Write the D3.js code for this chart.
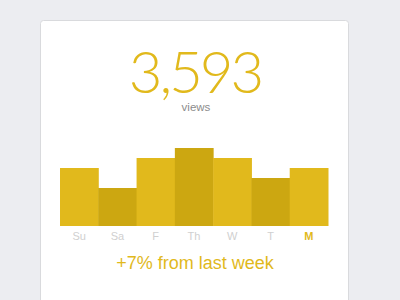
<!DOCTYPE html>
<html lang="en">
  <head>
    <meta charset="utf-8" />
    <title>Weekly views</title>
    <script type="text/javascript" src="https://cdn.jsdelivr.net/npm/d3@7"></script>
    <style>
      body { margin: 0; background: #ecedf1; }
    </style>
  </head>
  <body>
    <script>
      var days = ["Su", "Sa", "F", "Th", "W", "T", "M"]
      var views = [58, 38, 68, 78, 68, 48, 58]
      var shade = ["light", "dark", "light", "dark", "light", "dark", "light"]
      var total = "3,593"
      var change = "+7% from last week"
      var today = "M"

      var width = 400, height = 300
      var svg = d3.select("body").append("svg")
                  .attr("width", width)
                  .attr("height", height)

      // card
      svg.append("rect")
         .attr("x", 40.5).attr("y", 20.5)
         .attr("width", 308).attr("height", 300)
         .attr("rx", 3)
         .attr("fill", "#fff")
         .attr("stroke", "#d9dadd")

      var xScale = d3.scaleBand().domain(days).range([60, 328]).padding(0)
      var yScale = d3.scaleLinear().domain([0, d3.max(views)]).range([226, 148])

      svg.selectAll("rect.bar")
         .data(days)
         .enter()
         .append("rect")
           .attr("class", "bar")
           .attr("x", function(d) { return xScale(d) })
           .attr("y", function(d, i) { return yScale(views[i]) })
           .attr("width", xScale.bandwidth() + 0.5)
           .attr("height", function(d, i) { return yScale(0) - yScale(views[i]) })
           .attr("fill", function(d, i) { return shade[i] == "dark" ? "#cca711" : "#e1b91c" })

      var xAxis = svg.append("g")
         .attr("transform", "translate(0,226)")
         .call(d3.axisBottom(xScale).tickSize(0).tickPadding(6))
      xAxis.select(".domain").remove()
      xAxis.selectAll("text")
         .style("font-family", "Liberation Sans, Arial, sans-serif")
         .style("font-size", "11px")
         .attr("fill", function(d) { return d == today ? "#e1b91c" : "#d0d0d0" })
         .style("font-weight", function(d) { return d == today ? "bold" : "normal" })

      svg.append("text")
         .attr("x", 195).attr("y", 93)
         .attr("text-anchor", "middle")
         .style("font-family", "Lato, sans-serif")
         .style("font-weight", "300")
         .style("font-size", "58px")
         .style("letter-spacing", "-3px")
         .attr("fill", "#e1b91c")
         .text(total)

      svg.append("text")
         .attr("x", 196).attr("y", 111)
         .attr("text-anchor", "middle")
         .style("font-family", "Liberation Sans, Arial, sans-serif")
         .style("font-size", "11.5px")
         .attr("fill", "#8c8c8c")
         .text("views")

      svg.append("text")
         .attr("x", 195).attr("y", 269)
         .attr("text-anchor", "middle")
         .style("font-family", "Liberation Sans, Arial, sans-serif")
         .style("font-size", "18px")
         .attr("fill", "#e1b91c")
         .text(change)
    </script>
  </body>
</html>
